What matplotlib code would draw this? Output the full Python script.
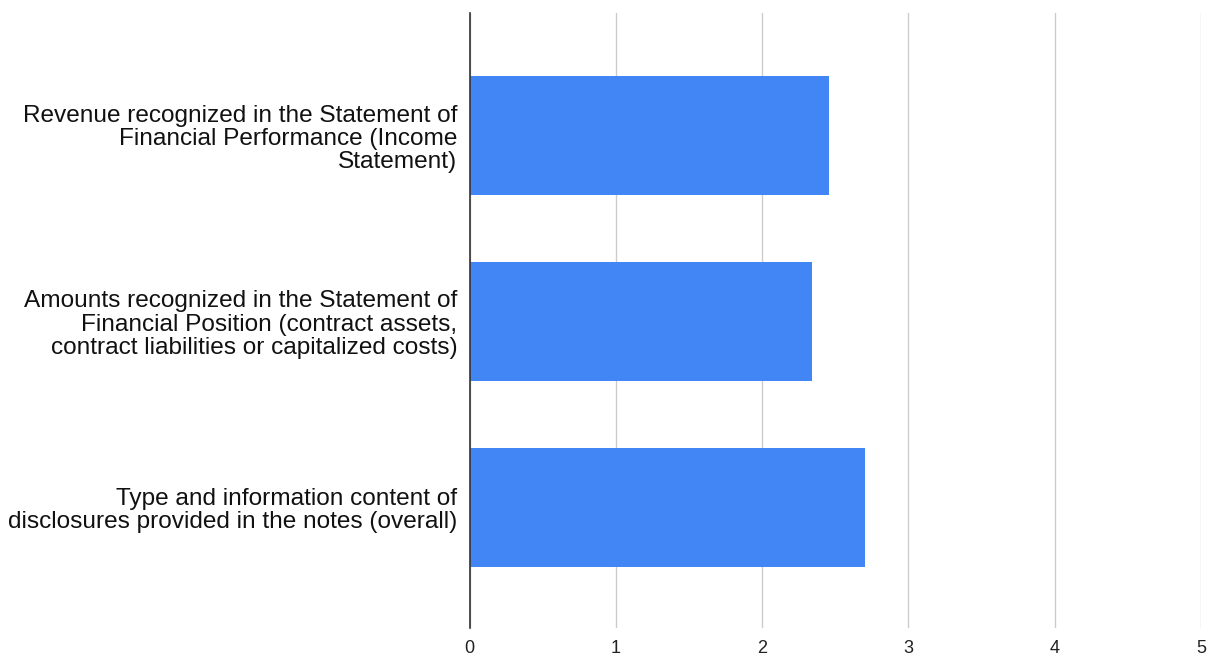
import matplotlib
matplotlib.use("Agg")
import matplotlib.pyplot as plt

categories = [
    "Revenue recognized in the Statement of\nFinancial Performance (Income\nStatement)",
    "Amounts recognized in the Statement of\nFinancial Position (contract assets,\ncontract liabilities or capitalized costs)",
    "Type and information content of\ndisclosures provided in the notes (overall)",
]
values = [2.46, 2.34, 2.70]
x_ticks = [0, 1, 2, 3, 4, 5]

plt.rcParams["font.family"] = ["Liberation Sans", "DejaVu Sans"]

fig = plt.figure(figsize=(12.08, 6.56), dpi=100)
ax = fig.add_axes([0.3888, 0.0427, 0.9942 - 0.3888, 0.980 - 0.0427])

pos = list(range(len(categories)))
ax.barh(pos, values, height=0.64, color="#4285F4", zorder=3)

ax.set_xlim(0, 5)
ax.set_ylim(len(categories) - 1 + 0.65, -0.66)
ax.set_xticks(x_ticks)
ax.set_xticklabels([str(t) for t in x_ticks], fontsize=13, color="#222222")
ax.set_yticks(pos)
ax.set_yticklabels(categories, fontsize=17.6, color="#111111", linespacing=1.07)

ax.grid(axis="x", color="#cccccc", linewidth=1.0, zorder=0)
for s in ["top", "right", "bottom"]:
    ax.spines[s].set_visible(False)
ax.spines["left"].set_color("#333333")
ax.spines["left"].set_linewidth(1.2)
ax.spines["left"].set_zorder(4)
ax.tick_params(axis="both", length=0)
ax.tick_params(axis="y", pad=9)
ax.tick_params(axis="x", pad=9)

fig.savefig("out.png", dpi=100)
